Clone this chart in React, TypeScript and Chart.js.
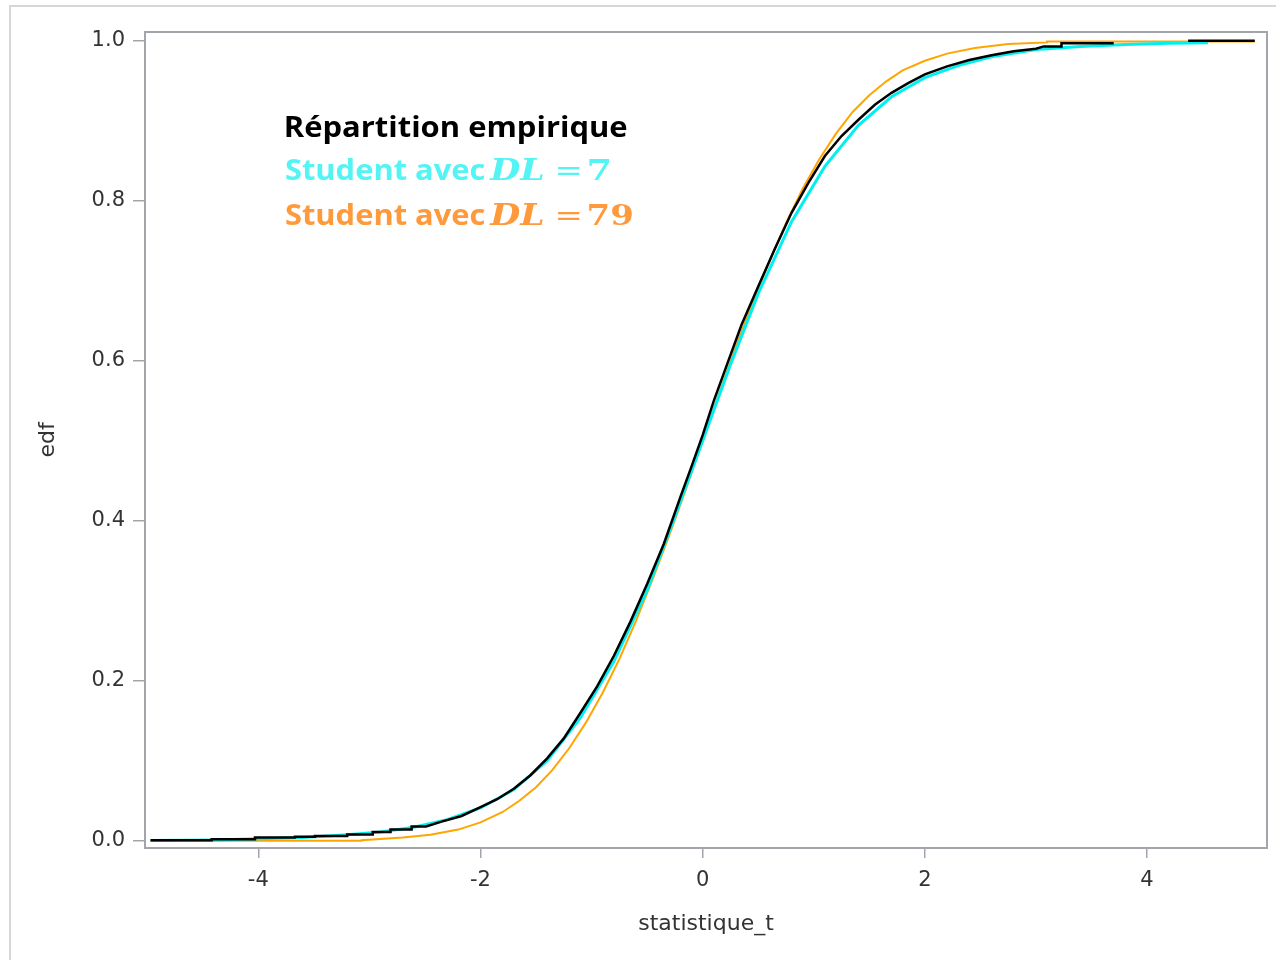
import React, { useEffect, useRef } from "react";
import { Chart, registerables } from "chart.js";

Chart.register(...registerables);

// Empirical distribution function of the t statistic (steps in the tails)
const empiriqueX = [
  -4.97, -4.42, -4.42, -4.03, -4.03, -3.67, -3.67, -3.49, -3.49, -3.2, -3.2, -2.97, -2.97, -2.81, -2.81, -2.62,
  -2.62, -2.49, -2.35, -2.17, -2.0, -1.85, -1.7, -1.55, -1.4, -1.25, -1.1, -0.95, -0.8, -0.65, -0.5, -0.35, -0.2,
  -0.1, 0, 0.1, 0.2, 0.35, 0.5, 0.65, 0.8, 0.95, 1.1, 1.25, 1.4, 1.55, 1.7, 1.85, 2.0, 2.2, 2.4, 2.6, 2.8, 3.0,
  3.07, 3.23, 3.23, 3.7, 4.0, 4.37, 4.97,
];
const empiriqueY = [
  0.0008, 0.0008, 0.002, 0.002, 0.004, 0.004, 0.005, 0.005, 0.006, 0.006, 0.008, 0.008, 0.011, 0.011, 0.014, 0.014,
  0.018, 0.018, 0.024, 0.031, 0.042, 0.052, 0.065, 0.082, 0.103, 0.128, 0.16, 0.193, 0.231, 0.274, 0.321, 0.371,
  0.43, 0.468, 0.507, 0.55, 0.588, 0.645, 0.693, 0.74, 0.785, 0.822, 0.856, 0.881, 0.901, 0.92, 0.935, 0.947, 0.958,
  0.968, 0.976, 0.982, 0.987, 0.99, 0.993, 0.993, 0.997, 0.997, null, 1.0, 1.0,
];

// Student distribution, 7 degrees of freedom
const student7X = [
  -4.97, -4.4, -4.0, -3.6, -3.2, -2.9, -2.6, -2.3, -2.0, -1.7, -1.4, -1.1, -0.8, -0.5, -0.25, 0, 0.25, 0.5, 0.8,
  1.1, 1.4, 1.7, 2.0, 2.3, 2.6, 3.0, 3.4, 3.8, 4.2, 4.55,
];
const student7Y = [
  0.0005, 0.001, 0.0025, 0.004, 0.0075, 0.011, 0.017, 0.0265, 0.041, 0.064, 0.1, 0.154, 0.224, 0.313, 0.405, 0.5,
  0.595, 0.684, 0.774, 0.843, 0.894, 0.93, 0.954, 0.969, 0.98, 0.989, 0.993, 0.9955, 0.997, 0.9975,
];

// Student distribution, 79 degrees of freedom
const student79X = [
  -4.97, -3.07, -3.07, -2.7, -2.45, -2.2, -2.0, -1.8, -1.65, -1.5, -1.35, -1.2, -1.05, -0.9, -0.75, -0.6, -0.45,
  -0.3, -0.15, 0, 0.15, 0.3, 0.45, 0.6, 0.75, 0.9, 1.05, 1.2, 1.35, 1.5, 1.65, 1.8, 2.0, 2.2, 2.45, 2.75, 3.1, 3.1,
  4.97,
];
const student79Y = [
  0.0, 0.0, 0.0008, 0.004, 0.0075, 0.014, 0.023, 0.036, 0.05, 0.067, 0.089, 0.116, 0.148, 0.185, 0.227, 0.275,
  0.327, 0.382, 0.44, 0.5, 0.56, 0.618, 0.673, 0.724, 0.772, 0.815, 0.852, 0.884, 0.911, 0.932, 0.949, 0.963,
  0.975, 0.984, 0.991, 0.996, 0.998, 0.999, 0.999,
];

const xTickValues = [-4, -2, 0, 2, 4];
const yTickValues = [0, 0.2, 0.4, 0.6, 0.8, 1.0];
const xTitle = "statistique_t";
const yTitle = "edf";

const labelEmpirique = "Répartition empirique";
const labelStudent = "Student avec";
const labelDL = "DL";
const labelEq = "=";
const dl7 = "7";
const dl79 = "79";

const BLACK = "#000000";
const CYAN_LINE = "#00F0F0";
const ORANGE_LINE = "#FFA500";
const CYAN_TEXT = "#55F4F4";
const ORANGE_TEXT = "#FF9A3C";
const AXIS_GREY = "#A2A6AA";
const TEXT_GREY = "#333333";

const toPoints = (xs: number[], ys: (number | null)[]) => xs.map((x, i) => ({ x, y: ys[i] }));

// Draws text so that its ink spans exactly [x, x + width]
function drawFitted(
  ctx: CanvasRenderingContext2D,
  text: string,
  font: string,
  color: string,
  x: number,
  baseline: number,
  width: number
) {
  ctx.save();
  ctx.font = font;
  ctx.fillStyle = color;
  ctx.textAlign = "left";
  ctx.textBaseline = "alphabetic";
  const m = ctx.measureText(text);
  const ink = m.actualBoundingBoxLeft + m.actualBoundingBoxRight;
  ctx.translate(x, baseline);
  ctx.scale(width / ink, 1);
  ctx.fillText(text, m.actualBoundingBoxLeft, 0);
  ctx.restore();
}

const framePlugin = {
  id: "frames",
  beforeDraw(chart: any) {
    const ctx = chart.ctx as CanvasRenderingContext2D;
    ctx.save();
    ctx.strokeStyle = "#D6D6D6";
    ctx.lineWidth = 2;
    ctx.strokeRect(10, 6, 1400, 1100);
    ctx.restore();
  },
  afterDraw(chart: any) {
    const ctx = chart.ctx as CanvasRenderingContext2D;
    const a = chart.chartArea;
    ctx.save();
    ctx.strokeStyle = AXIS_GREY;
    ctx.lineWidth = 2;
    ctx.strokeRect(a.left, a.top, a.right - a.left, a.bottom - a.top);
    ctx.restore();

    const sans = "700 28px 'Open Sans'";
    const mathIt = "italic 700 29px 'DejaVu Serif'";
    const mathUp = "700 28px 'DejaVu Serif'";
    const mathEq = "400 28px 'DejaVu Serif'";

    drawFitted(ctx, labelEmpirique, sans, BLACK, 286, 137, 341);

    drawFitted(ctx, labelStudent, sans, CYAN_TEXT, 286, 180, 199);
    drawFitted(ctx, labelDL, mathIt, CYAN_TEXT, 489, 180, 54);
    drawFitted(ctx, labelEq, mathEq, CYAN_TEXT, 557, 180, 23);
    drawFitted(ctx, dl7, mathUp, CYAN_TEXT, 589, 180, 21);

    drawFitted(ctx, labelStudent, sans, ORANGE_TEXT, 286, 225, 199);
    drawFitted(ctx, labelDL, mathIt, ORANGE_TEXT, 489, 225, 54);
    drawFitted(ctx, labelEq, mathEq, ORANGE_TEXT, 557, 225, 23);
    drawFitted(ctx, dl79, mathUp, ORANGE_TEXT, 589, 225, 43);
  },
};

export default function App() {
  const canvasRef = useRef<HTMLCanvasElement | null>(null);

  useEffect(() => {
    if (!canvasRef.current) return;
    const tickFont = { family: "'DejaVu Sans'", size: 21 };
    const titleFont = { family: "'DejaVu Sans'", size: 22 };

    const chart = new Chart(canvasRef.current, {
      type: "line",
      data: {
        datasets: [
          {
            label: labelEmpirique,
            data: toPoints(empiriqueX, empiriqueY),
            borderColor: BLACK,
            borderWidth: 2.5,
            pointRadius: 0,
            spanGaps: false,
          },
          {
            label: "DL = 7",
            data: toPoints(student7X, student7Y),
            borderColor: CYAN_LINE,
            borderWidth: 3,
            pointRadius: 0,
          },
          {
            label: "DL = 79",
            data: toPoints(student79X, student79Y),
            borderColor: ORANGE_LINE,
            borderWidth: 2,
            pointRadius: 0,
          },
        ],
      },
      options: {
        animation: false,
        responsive: false,
        devicePixelRatio: 1,
        layout: { padding: { top: 32, right: 9, left: 0, bottom: 0 } },
        plugins: { legend: { display: false }, tooltip: { enabled: false } },
        elements: { line: { tension: 0 } },
        scales: {
          x: {
            type: "linear",
            min: -5.02,
            max: 5.08,
            afterBuildTicks: (s: any) => {
              s.ticks = xTickValues.map((v) => ({ value: v }));
            },
            afterFit: (s: any) => {
              s.height = 112;
            },
            ticks: {
              font: tickFont,
              color: TEXT_GREY,
              padding: 10,
              maxRotation: 0,
              callback: (v: any) => String(v),
            },
            grid: {
              drawOnChartArea: false,
              drawTicks: true,
              tickLength: 10,
              color: AXIS_GREY,
              lineWidth: 1.5,
            },
            border: { display: false },
            title: {
              display: true,
              text: xTitle,
              font: titleFont,
              color: TEXT_GREY,
              padding: { top: 0, bottom: 23 },
            },
          },
          y: {
            type: "linear",
            min: -0.009,
            max: 1.011,
            afterBuildTicks: (s: any) => {
              s.ticks = yTickValues.map((v) => ({ value: v }));
            },
            afterFit: (s: any) => {
              s.width = 145;
            },
            ticks: {
              font: tickFont,
              color: TEXT_GREY,
              padding: 8,
              callback: (v: any) => Number(v).toFixed(1),
            },
            grid: {
              drawOnChartArea: false,
              drawTicks: true,
              tickLength: 12,
              color: AXIS_GREY,
              lineWidth: 1.5,
            },
            border: { display: false },
            title: {
              display: true,
              text: yTitle,
              font: titleFont,
              color: TEXT_GREY,
              padding: { top: 35, bottom: 0 },
            },
          },
        },
      },
      plugins: [framePlugin],
    } as any);

    return () => chart.destroy();
  }, []);

  return (
    <div style={{ position: "absolute", left: 0, top: 0, width: 1276, height: 960, background: "#ffffff" }}>
      <canvas ref={canvasRef} width={1276} height={960} style={{ display: "block" }} />
    </div>
  );
}
